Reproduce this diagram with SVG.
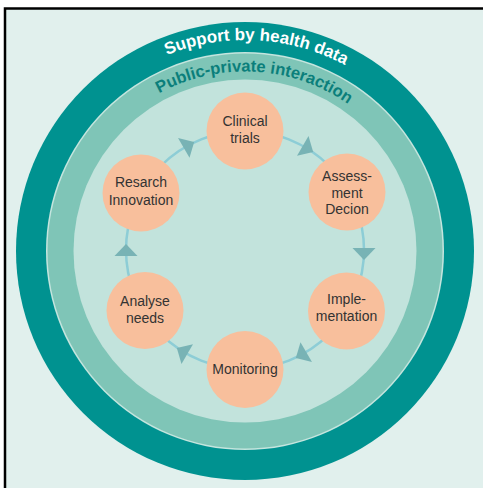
<svg xmlns="http://www.w3.org/2000/svg" xmlns:xlink="http://www.w3.org/1999/xlink" width="483" height="488" viewBox="0 0 483 488">
  <style>
    .node circle { fill: #f8bf9c; }
    .node text { font-family: "Liberation Sans", Arial, sans-serif; font-size: 14px; fill: #333333; text-anchor: middle; }
    .ringtext { font-family: "Liberation Sans", Arial, sans-serif; font-weight: bold; text-anchor: middle; }
    .arrow { fill: #78b3b5; }
  </style>
  <defs>
    <path id="arr" d="M-2,-11.5 L-2,11.5 L10,0 Z"/>
    <path id="outerPath" d="M34,251 A211,211 0 0 1 456,251"/>
    <path id="innerPath" d="M65.5,251 A179.5,179.5 0 0 1 424.5,251"/>
  </defs>
  <rect x="0" y="0" width="483" height="488" fill="#ffffff"/>
  <rect x="5" y="8.5" width="500" height="500" fill="#e1f0ed" stroke="#000000" stroke-width="2.5"/>

  <g id="rings">
    <circle cx="245" cy="251" r="229" fill="#009290"/>
    <circle cx="245" cy="251" r="199" fill="#c4e5de"/>
    <circle cx="245" cy="251" r="197.5" fill="#7fc5b7"/>
    <circle cx="245" cy="251" r="171.5" fill="#c2e3dc"/>
    <text class="ringtext" font-size="17" fill="#ffffff"><textPath xlink:href="#outerPath" href="#outerPath" startOffset="51.8%">Support by health data</textPath></text>
    <text class="ringtext" font-size="16.6" fill="#0b7f7b"><textPath xlink:href="#innerPath" href="#innerPath" startOffset="51.8%">Public-private interaction</textPath></text>
  </g>

  <g id="connectors">
    <circle cx="245" cy="250" r="119" fill="none" stroke="#8dcdd6" stroke-width="2.5"/>
    <use href="#arr" xlink:href="#arr" class="arrow" transform="translate(304.5,146.9) rotate(30)"/>
    <use href="#arr" xlink:href="#arr" class="arrow" transform="translate(364,250) rotate(90)"/>
    <use href="#arr" xlink:href="#arr" class="arrow" transform="translate(304.5,353.1) rotate(150)"/>
    <use href="#arr" xlink:href="#arr" class="arrow" transform="translate(185.5,353.1) rotate(210)"/>
    <use href="#arr" xlink:href="#arr" class="arrow" transform="translate(126,254) rotate(270)"/>
    <use href="#arr" xlink:href="#arr" class="arrow" transform="translate(185.5,146.9) rotate(330)"/>
  </g>

  <g id="clinical" class="node">
    <circle cx="245" cy="131" r="38.5"/>
    <text x="245" y="126">Clinical</text>
    <text x="245" y="142.7">trials</text>
  </g>
  <g id="assessment" class="node">
    <circle cx="347" cy="192" r="38.5"/>
    <text x="347" y="180.7">Assess-</text>
    <text x="347" y="197.5">ment</text>
    <text x="347" y="214.3">Decion</text>
  </g>
  <g id="implementation" class="node">
    <circle cx="346.5" cy="311" r="38.5"/>
    <text x="346.5" y="304">Imple-</text>
    <text x="346.5" y="320.5">mentation</text>
  </g>
  <g id="monitoring" class="node">
    <circle cx="245" cy="369.5" r="38.5"/>
    <text x="245" y="373.5">Monitoring</text>
  </g>
  <g id="analyse" class="node">
    <circle cx="145" cy="310.5" r="38.5"/>
    <text x="145" y="306">Analyse</text>
    <text x="145" y="322.7">needs</text>
  </g>
  <g id="research" class="node">
    <circle cx="141" cy="193" r="38.5"/>
    <text x="141" y="187.3">Resarch</text>
    <text x="141" y="205">Innovation</text>
  </g>
</svg>
